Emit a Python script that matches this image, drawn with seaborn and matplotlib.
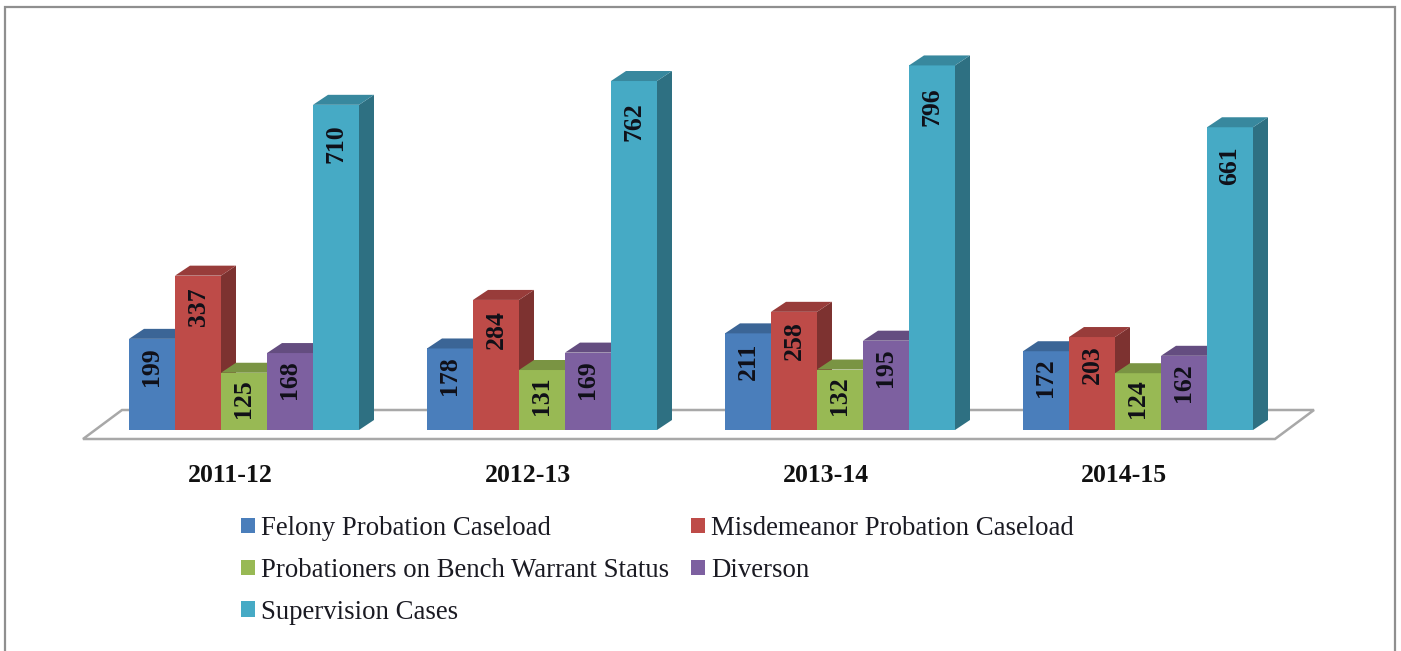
import matplotlib
matplotlib.use("Agg")
import matplotlib.pyplot as plt
from matplotlib.colors import to_rgb
from matplotlib.patches import Patch, Polygon, Rectangle
import pandas as pd
import seaborn as sns

years = ['2011-12', '2012-13', '2013-14', '2014-15']
felony = [199, 178, 211, 172]
misdemeanor = [337, 284, 258, 203]
bench_warrant = [125, 131, 132, 124]
diversion = [168, 169, 195, 162]
supervision = [710, 762, 796, 661]
series_names = ['Felony Probation Caseload', 'Misdemeanor Probation Caseload',
                'Probationers on Bench Warrant Status', 'Diverson', 'Supervision Cases']
colors = ['#4A7EBB', '#BE4B48', '#98B954', '#7D60A0', '#46AAC5']

sns.set_theme(style="white")
plt.rcParams['font.family'] = ['Liberation Serif', 'DejaVu Serif']

rows = []
for name, vals in zip(series_names, [felony, misdemeanor, bench_warrant, diversion, supervision]):
    for yr, v in zip(years, vals):
        rows.append({'year': yr, 'series': name, 'value': v})
df = pd.DataFrame(rows)

W, H = 1401, 651
AX_H = 450      # axes covers the top of the picture, tick labels sit below it
BASE = 430      # pixel row of the zero line
X0, STEP = 244, 298     # pixel column of first group, pixels between groups
PX_Y = 0.458    # pixels per case
DX, DY = 15 / STEP, 10 / PX_Y   # 3d depth in data units

fig = plt.figure(figsize=(W / 100, H / 100), dpi=100)
ax = fig.add_axes([0, 1 - AX_H / H, 1, AX_H / H])

sns.barplot(data=df, x='year', y='value', hue='series', palette=colors,
            width=230 / STEP, gap=0, saturation=1, legend=False, ax=ax)
ax.set_xlim(-X0 / STEP, (W - X0) / STEP)
ax.set_ylim((BASE - AX_H) / PX_Y, BASE / PX_Y)
bars = sorted(ax.patches, key=lambda b: b.get_x())

# floor under the bars
fl = (430 + 9 - BASE) / PX_Y
bk = (BASE - 410) / PX_Y
ax.add_patch(Polygon([((83 - X0) / STEP, -fl), ((1275 - X0) / STEP, -fl),
                      ((1314 - X0) / STEP, bk), ((122 - X0) / STEP, bk)],
                     closed=True, fc='white', ec='#A8A8A8', lw=1.8, zorder=1))

# fake the 3d look, left to right so each bar covers the side of the previous one
for i, bar in enumerate(bars):
    z = 2 + i * 0.01
    x, w, h = bar.get_x(), bar.get_width(), bar.get_height()
    rgb = to_rgb(bar.get_facecolor())
    side = [c * 0.66 for c in rgb]
    top = [c * 0.8 for c in rgb]
    bar.set_zorder(z)
    bar.set_edgecolor('none')
    ax.add_patch(Polygon([(x + w, 0), (x + w + DX, DY), (x + w + DX, h + DY), (x + w, h)],
                         fc=side, ec='none', zorder=z))
    ax.add_patch(Polygon([(x, h), (x + DX, h + DY), (x + w + DX, h + DY), (x + w, h)],
                         fc=top, ec='none', zorder=z))
    ax.text(x + w / 2, h - (50 + 0.05 * h), str(int(h)), rotation=90, ha='center', va='center',
            fontsize=18.5, fontweight='bold', color='#101018', zorder=3)

ax.set_xticks([i - 14 / STEP for i in range(len(years))], years)
ax.tick_params(axis='x', length=0, pad=10, labelsize=18.5, labelcolor='#111111')
for lab in ax.get_xticklabels():
    lab.set_fontweight('bold')
ax.set_yticks([])
ax.set_xlabel('')
ax.set_ylabel('')
sns.despine(ax=ax, left=True, bottom=True)
ax.patch.set_visible(False)

# legend fills by column, so reorder to get the rows of the original
order = [0, 2, 4, 1, 3]
handles = [Patch(fc=colors[i], ec='none', label=series_names[i]) for i in order]
fig.legend(handles=handles, loc='upper left', bbox_to_anchor=(241 / W, 1 - 516 / H), ncol=2,
           frameon=False, fontsize=19.3, borderpad=0, borderaxespad=0, handlelength=0.52,
           handleheight=0.52, handletextpad=0.23, columnspacing=0.8, labelspacing=0.63,
           labelcolor='#1A1A22')

fig.add_artist(Rectangle((5 / W, -10 / H), 1390 / W, (H + 10 - 7) / H, transform=fig.transFigure,
                         fc='none', ec='#8F8F8F', lw=1.6))

fig.savefig('out.png', dpi=100, facecolor='white')
